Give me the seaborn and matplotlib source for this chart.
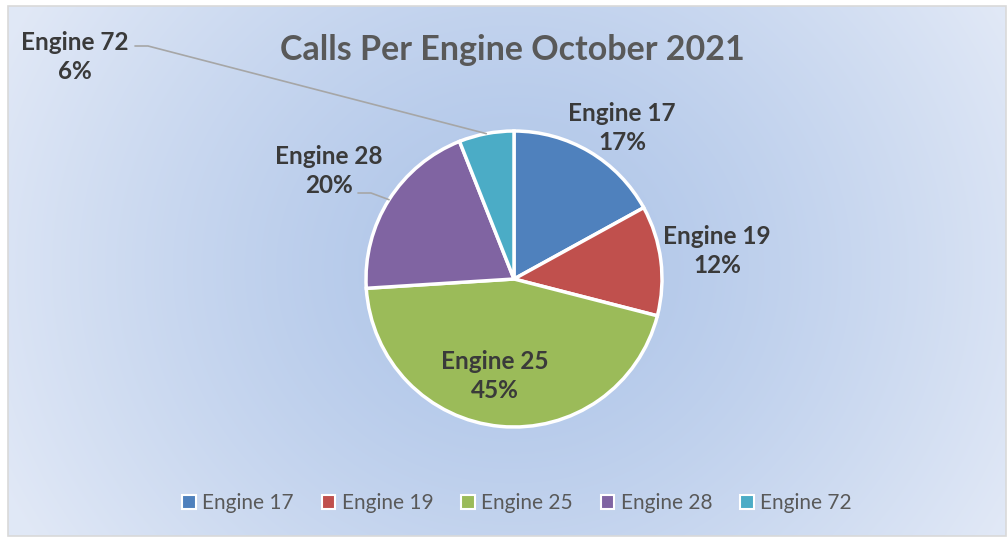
import numpy as np
import matplotlib.pyplot as plt
import matplotlib.patches as mpatches
import seaborn as sns

# -------------------------
# DATA
# -------------------------
engines = ["Engine 17", "Engine 19", "Engine 25", "Engine 28", "Engine 72"]
shares = [17, 12, 45, 20, 6]
colors = ["#4f81bd", "#c0504d", "#9bbb59", "#8064a2", "#4bacc6"]
title = "Calls Per Engine October 2021"

# -------------------------
# LAYOUT (pixels)
# -------------------------
W, H = 1008, 539
CX, CY, R = 514, 539 - 279, 148
# label offset relative to pie center (pixels), and whether it gets a leader line
label_pos = [(108, 151), (203, 28), (-19, -97), (-185, 108), (-439, 222)]
leader = [False, False, False, True, True]

sns.set_theme(style="white")
plt.rcParams["font.family"] = ["Lato", "DejaVu Sans"]

fig = plt.figure(figsize=(W / 100, H / 100), dpi=100)
ax = fig.add_axes([0, 0, 1, 1])

# radial gradient background inside the chart frame
x0, x1, y0, y1 = 8, 1006, 3, 533
xx, yy = np.meshgrid(np.arange(x0, x1), np.arange(y0, y1))
d = np.sqrt((xx - 512) ** 2 + ((yy - 270) * 1.1) ** 2) / 560
d = np.clip(d, 0, 1) ** 1.3
c_in = np.array([0.68, 0.77, 0.91])
c_out = np.array([0.88, 0.91, 0.965])
img = c_in[None, None, :] * (1 - d[..., None]) + c_out[None, None, :] * d[..., None]
ax.imshow(img, extent=(x0, x1, y0, y1), origin="lower", zorder=0, interpolation="bilinear")
ax.add_patch(mpatches.Rectangle((x0, y0), x1 - x0, y1 - y0, fill=False,
                                edgecolor="#d9d9d9", linewidth=1.2, zorder=1))

wedges, _ = ax.pie(shares, colors=colors, startangle=90, counterclock=False,
                   center=(CX, CY), radius=R, frame=True,
                   wedgeprops=dict(edgecolor="white", linewidth=2.5, zorder=2))

# data labels
for w, name, val, (dx, dy), lead in zip(wedges, engines, shares, label_pos, leader):
    tx, ty = CX + dx, CY + dy
    ax.text(tx, ty, f"{name}\n{val}%", ha="center", va="center", fontsize=17.5,
            fontweight="bold", color="#3a3a3a", linespacing=1.35, zorder=4)
    if lead:
        ang = np.deg2rad((w.theta1 + w.theta2) / 2)
        ex, ey = CX + R * np.cos(ang), CY + R * np.sin(ang)
        sx = tx + 60 if dx < -300 else tx + 29
        sy = ty + 11 if dx < -300 else ty - 22
        ax.plot([sx, sx + 13, ex], [sy, sy, ey], color="#a6a6a6", linewidth=1.2, zorder=3)

ax.text(512, 539 - 50, title, ha="center", va="center", fontsize=24.5,
        fontweight="bold", color="#595959", zorder=4)

handles = [mpatches.Patch(facecolor=c, edgecolor="white", linewidth=1.5, label=n)
           for c, n in zip(colors, engines)]
leg = ax.legend(handles=handles, loc="center", bbox_to_anchor=(517 / W, 1 - 503 / H),
                ncol=5, frameon=False, fontsize=15, handlelength=0.65, handleheight=0.65,
                handletextpad=0.3, columnspacing=1.35)
for t in leg.get_texts():
    t.set_color("#595959")

ax.set_xlim(0, W)
ax.set_ylim(0, H)
ax.set_aspect("equal")
ax.axis("off")

plt.savefig("out.png", dpi=100, facecolor="white")
plt.close()
